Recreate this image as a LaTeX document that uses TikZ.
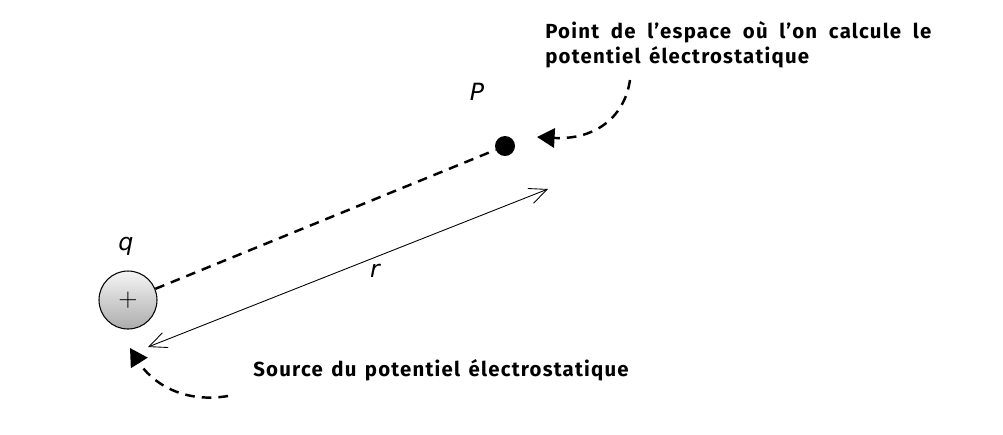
\documentclass[tikz,border=0pt]{standalone}
\usepackage{fontspec}
\usetikzlibrary{arrows.meta,shadings}
\newfontfamily\handfont[LetterSpace=6,WordSpace={1.4}]{Fira Sans Bold}
\newfontfamily\mathitfont{DejaVu Sans}
\tikzset{
  dashedlink/.style={line width=1.4pt, dash pattern=on 5.5pt off 4pt},
  pointer/.style={dashedlink, -{Triangle[length=10pt,width=11pt]}},
  annot/.style={font=\handfont\fontsize{11.6}{14.3}\selectfont, inner sep=0pt},
  varlabel/.style={font=\mathitfont\itshape\fontsize{13.5}{15}\selectfont, inner sep=0pt},
}
\begin{document}
\begin{tikzpicture}[x=0.02cm,y=-0.02cm]
\useasboundingbox (0,0) rectangle (1003,434);
% charge q
\node[circle, draw, line width=0.6pt, minimum size=58*0.02cm, inner sep=0pt,
      top color=gray!8, bottom color=gray!65] (q) at (128,300) {\fontsize{15}{15}\selectfont $+$};
\node[varlabel] (qlab) at (126,246) {q};
% point P
\node[circle, fill=black, minimum size=20*0.02cm, inner sep=0pt] (P) at (505,146) {};
\node[varlabel] (Plab) at (477,92) {P};
% dashed link q--P
\draw[dashedlink] (q) -- (P);
% distance r
\coordinate (r1) at (148,347);
\coordinate (r2) at (548,189);
\draw[line width=0.5pt, {Straight Barb[length=10pt,width=9pt]}-{Straight Barb[length=10pt,width=9pt]}] (r1) -- (r2);
\node[varlabel] (rlab) at (375,271) {r};
% annotation top
\node[annot, anchor=north west, text width=386*0.02cm, align=justify] (ptext) at (545,21)
  {Point de l’espace où l’on calcule le potentiel électrostatique};
\coordinate (pstart) at (630,80);
\coordinate (ptip) at (537,137);
\draw[pointer] (pstart) .. controls (624,120) and (592,140) .. (ptip);
% annotation bottom
\node[annot, anchor=west] (stext) at (253,370) {Source du potentiel électrostatique};
\coordinate (sstart) at (228,396);
\coordinate (stip) at (130,348);
\draw[pointer] (sstart) .. controls (180,404) and (150,380) .. (stip);
\end{tikzpicture}
\end{document}
